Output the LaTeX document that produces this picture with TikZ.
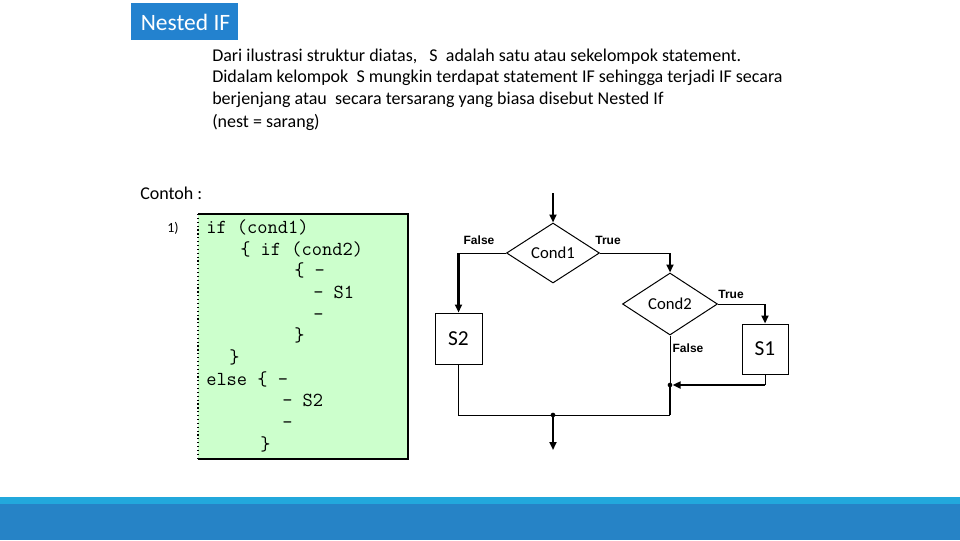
\documentclass[tikz,border=0pt]{standalone}
\usepackage{fontspec}
\setmainfont{Carlito}
\newfontfamily\labf{Liberation Sans}
\usetikzlibrary{shapes.geometric,arrows.meta}
\definecolor{hdrblue}{HTML}{2382CF}
\definecolor{barblue}{HTML}{2683C6}
\definecolor{barlight}{HTML}{22A8DC}
\definecolor{codegreen}{HTML}{CCFFCC}
\tikzset{
  x=0.75pt,y=-0.75pt,
  para/.style={anchor=west,inner sep=0pt,font=\fontsize{13.5}{15}\selectfont},
  codeln/.style={anchor=base west,inner sep=0pt,font=\ttfamily\fontsize{14.9}{16}\selectfont},
  lab/.style={inner sep=0pt,font=\labf\bfseries\fontsize{9}{10}\selectfont},
  dec/.style={diamond,draw,line width=0.75pt,inner sep=0pt,font=\fontsize{12.5}{14}\selectfont},
  stm/.style={rectangle,draw,line width=0.75pt,inner sep=0pt,font=\fontsize{16}{18}\selectfont},
  thin line/.style={line width=0.75pt},
  thick line/.style={line width=1.6pt},
  arr/.style={thick line,-{Triangle[length=6pt,width=5.25pt]}},
  jdot/.style={circle,fill,inner sep=0pt,minimum size=3.5pt}
}
\begin{document}
\begin{tikzpicture}
\useasboundingbox (0,0) rectangle (960,540);
% bottom bar
\fill[barlight] (0,497) rectangle (960,504);
\fill[barblue] (0,504) rectangle (960,540);
% header
\fill[hdrblue] (131,3) rectangle (238,40);
\node[text=white,inner sep=0pt,font=\fontsize{17.6}{19}\selectfont] (title) at (185.5,22) {Nested IF};
% paragraph
\node[para] (p1) at (212,57) {Dari ilustrasi struktur diatas,\ \ \ S\ \ adalah satu atau sekelompok statement.};
\node[para] (p2) at (212,78) {Didalam kelompok\ \ S mungkin terdapat statement IF sehingga terjadi IF secara};
\node[para] (p3) at (212,100) {berjenjang atau\ \ secara tersarang yang biasa disebut Nested If};
\node[para] (p4) at (212,122) {(nest = sarang)};
\node[para] (contoh) at (140,193) {Contoh :};
\node[anchor=west,inner sep=0pt,font=\fontsize{10.5}{12}\selectfont] (num) at (167,228) {1)};
% code box
\fill[codegreen] (198,214) rectangle (408,459);
\draw[line width=1pt] (198,214) -- (408,214) -- (408,459) -- (198,459);
\draw[line width=0.9pt,dotted] (198,214) -- (198,459);
\node[codeln] (l1) at (206,233) {if (cond1)};
\node[codeln] (l2) at (240,255) {\{ if (cond2)};
\node[codeln] (l3) at (294,276) {\{ -};
\node[codeln] (l4) at (313,298) {- S1};
\node[codeln] (l5) at (313,320) {-};
\node[codeln] (l6) at (294,341) {\}};
\node[codeln] (l7) at (229,363) {\}};
\node[codeln] (l8) at (206,385) {else \{ -};
\node[codeln] (l9) at (282,406) {- S2};
\node[codeln] (l10) at (282,428) {-};
\node[codeln] (l11) at (260,450) {\}};
% flowchart
\node[dec,minimum width=69.75pt,minimum height=45pt] (c1) at (553,253) {Cond1};
\node[dec,minimum width=71.25pt,minimum height=46.5pt] (c2) at (670,304) {Cond2};
\node[stm,minimum width=35.25pt,minimum height=38.25pt] (s2) at (458.5,338.5) {S2};
\node[stm,minimum width=34.5pt,minimum height=37.5pt] (s1) at (765,349) {S1};
\coordinate (top) at (553,193);
\coordinate (k1) at (s2.north |- c1.west);
\coordinate (k2) at (c2.north |- c1.east);
\coordinate (k3) at (s1.north |- c2.east);
\coordinate (j1) at (670,385);
\coordinate (k4) at (s1.south |- j1);
\coordinate (k5) at (670,415);
\coordinate (k6) at (s2.south |- k5);
\coordinate (j2) at (553,415);
\coordinate (bot) at (553,450);
\draw[arr] (top) -- (c1.north);
\draw[thin line] (c1.west) -- (k1);
\draw[arr] (k1) -- (s2.north);
\draw[thin line] (c1.east) -- (k2);
\draw[arr] (k2) -- (c2.north);
\draw[thin line] (c2.east) -- (k3);
\draw[arr] (k3) -- (s1.north);
\draw[thin line] (s1.south) -- (k4);
\draw[arr,shorten >=2pt] (k4) -- (j1);
\draw[thin line] (c2.south) -- (j1);
\draw[thick line] (j1) -- (k5);
\draw[thin line] (s2.south) -- (k6) -- (k5);
\draw[arr] (j2) -- (bot);
\node[jdot] (d1) at (j1) {};
\node[jdot] (d2) at (j2) {};
\node[lab] (f1) at (479,240) {False};
\node[lab] (t1) at (608,240) {True};
\node[lab] (t2) at (731,294) {True};
\node[lab] (f2) at (688,348) {False};
\end{tikzpicture}
\end{document}
